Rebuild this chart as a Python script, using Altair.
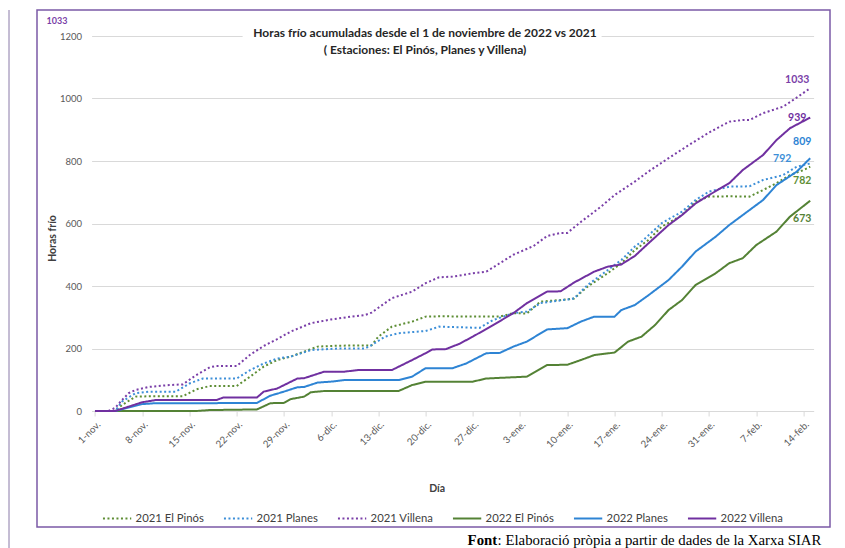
import altair as alt
import pandas as pd

# ---------------- data ----------------
series_names = ["2021 El Pinós", "2021 Planes", "2021 Villena",
                "2022 El Pinós", "2022 Planes", "2022 Villena"]
series_colors = ["#5E8E35", "#3D8FD8", "#7A3FA8", "#548235", "#2E84D4", "#7030A0"]

tick_days = [0, 7, 14, 21, 28, 35, 42, 49, 56, 63, 70, 77, 84, 91, 98, 105]
tick_labels = ["1-nov.", "8-nov.", "15-nov.", "22-nov.", "29-nov.", "6-dic.", "13-dic.",
               "20-dic.", "27-dic.", "3-ene.", "10-ene.", "17-ene.", "24-ene.", "31-ene.",
               "7-feb.", "14-feb."]

# days since 1 Nov and accumulated chill hours
pinos21_days = [0, 3, 4, 6, 8, 13, 15, 17, 21, 23, 25, 27, 29, 31, 33, 36, 41, 42, 44, 47, 49, 51,
                60, 62, 64, 66, 69, 71, 73, 76, 78, 80, 82, 84, 87, 89, 91, 94, 97, 99, 101, 103, 105, 106]
pinos21_vals = [0, 0, 19, 46, 47, 47, 69, 80, 80, 110, 142, 163, 174, 190, 206, 209, 210, 238, 270, 286, 302, 303,
                302, 313, 312, 350, 355, 360, 398, 441, 473, 515, 547, 590, 627, 670, 686, 687, 686, 707, 729, 755, 771, 782]

planes21_days = [0, 3, 4, 6, 8, 12, 14, 16, 21, 23, 25, 27, 29, 32, 36, 40, 41, 43, 45, 49, 51, 57,
                 59, 62, 64, 66, 71, 73, 76, 78, 80, 81, 84, 87, 89, 91, 94, 97, 99, 102, 104, 106]
planes21_vals = [0, 0, 30, 57, 62, 62, 88, 104, 104, 131, 152, 168, 174, 195, 200, 200, 211, 238, 249, 256, 270, 266,
                 291, 313, 318, 345, 360, 403, 451, 483, 526, 542, 601, 638, 675, 702, 718, 719, 739, 755, 782, 792]

villena21_days = [0, 2, 3, 4, 5, 6, 8, 11, 13, 15, 17, 18, 21, 23, 25, 27, 29, 32, 35, 38, 40, 41, 44, 47,
                  49, 51, 53, 55, 56, 58, 60, 62, 65, 67, 69, 70, 72, 75, 77, 80, 82, 85, 88, 91, 94, 96,
                  97, 99, 102, 104, 106]
villena21_vals = [0, 0, 10, 35, 57, 67, 77, 83, 85, 115, 140, 144, 144, 180, 208, 230, 254, 281, 293, 302, 307, 315,
                  361, 382, 409, 428, 430, 437, 441, 446, 473, 500, 528, 560, 570, 570, 605, 654, 691, 734, 766,
                  809, 851, 891, 926, 931, 931, 953, 974, 1003, 1033]

pinos22_days = [0, 15, 17, 24, 26, 28, 29, 31, 32, 34, 45, 47, 49, 56, 58, 64, 67, 70, 72, 74, 77, 79,
                81, 83, 85, 87, 89, 92, 94, 96, 98, 101, 103, 106]
pinos22_vals = [0, 0, 3, 5, 25, 26, 38, 46, 60, 64, 64, 83, 94, 94, 104, 110, 147, 148, 163, 179, 187, 222,
                238, 275, 323, 355, 403, 441, 473, 489, 531, 574, 622, 673]

planes22_days = [0, 3, 5, 7, 9, 18, 19, 24, 26, 28, 30, 31, 33, 35, 37, 45, 47, 49, 53, 55, 58, 60, 62,
                 64, 67, 70, 72, 74, 77, 78, 80, 82, 85, 87, 89, 92, 94, 96, 99, 101, 104, 106]
planes22_vals = [0, 0, 11, 22, 25, 25, 26, 26, 49, 62, 76, 77, 91, 94, 99, 99, 110, 137, 137, 152, 185, 186, 206,
                 222, 261, 265, 286, 302, 302, 323, 339, 370, 419, 462, 510, 558, 595, 627, 675, 723, 766, 809]

villena22_days = [0, 3, 5, 7, 9, 18, 19, 24, 25, 27, 30, 31, 34, 37, 39, 44, 47, 49, 50, 52, 54, 56, 59,
                  62, 64, 67, 69, 71, 74, 76, 78, 80, 82, 85, 87, 89, 91, 94, 96, 99, 101, 103, 106]
villena22_vals = [0, 0, 14, 28, 35, 35, 43, 43, 62, 72, 104, 105, 126, 126, 131, 131, 163, 185, 197, 198, 215, 238,
                  275, 313, 345, 382, 383, 411, 446, 462, 469, 496, 536, 595, 627, 664, 691, 729, 771, 819, 867,
                  905, 939]

end_labels = ["782", "792", "1033", "673", "809", "939"]
end_offsets = [(-8, 14), (-28, -5), (-13, -8), (-8, 18), (-8, -16), (-13, 0)]

# ---------------- build table ----------------
pairs = [(pinos21_days, pinos21_vals), (planes21_days, planes21_vals), (villena21_days, villena21_vals),
         (pinos22_days, pinos22_vals), (planes22_days, planes22_vals), (villena22_days, villena22_vals)]
rows = []
for name, (ds, vs) in zip(series_names, pairs):
    for d, v in zip(ds, vs):
        rows.append({"serie": name, "dia": d, "horas": v})
df = pd.DataFrame(rows)

FONT = "Lato"
PLOT_W, PLOT_H = 722, 375
LEFT, TOP = 83.6, 28  # padding -> plot origin at page (91.6, 36)

label_expr = "[" + ",".join("'" + t + "'" for t in tick_labels) + "][round(datum.value/7)]"

dash_range = [[2, 2.5], [2, 2.5], [2, 2.5], [1, 0], [1, 0], [1, 0]]

legend_cfg = dict(orient="none", legendX=10, legendY=467, direction="horizontal",
                  symbolType="stroke", symbolSize=800, symbolStrokeWidth=2,
                  labelFont=FONT, labelFontSize=11.3, labelColor="#404040",
                  columnPadding=15, labelOffset=3, title=None)

x_enc = alt.X("dia:Q",
              scale=alt.Scale(domain=[-0.5, 106.5], nice=False, zero=False),
              axis=alt.Axis(values=tick_days, labelExpr=label_expr, labelAngle=-45,
                            grid=False, ticks=True, tickSize=5, tickColor="#D9D9D9",
                            domainColor="#D9D9D9", labelColor="#595959", labelFontSize=9.7,
                            labelFont=FONT, labelPadding=3,
                            title="Día", titleX=345, titleY=77, titleFont=FONT,
                            titleFontSize=10.5, titleFontWeight="bold", titleColor="#404040",
                            titleBaseline="middle", titleAlign="center"))
y_enc = alt.Y("horas:Q",
              scale=alt.Scale(domain=[0, 1200], nice=False),
              axis=alt.Axis(values=[0, 200, 400, 600, 800, 1000, 1200], format="d",
                            grid=True, gridColor="#D9D9D9", domain=False, ticks=False,
                            labelPadding=10, labelColor="#595959", labelFontSize=9.5,
                            labelFont=FONT,
                            title="Horas frío", titleX=-39.6, titleY=202, titleAngle=270,
                            titleBaseline="middle", titleAlign="center", titleFont=FONT,
                            titleFontSize=10.5, titleFontWeight="bold", titleColor="#404040"))

lines = alt.Chart(df).mark_line(strokeWidth=2, strokeCap="butt").encode(
    x=x_enc, y=y_enc,
    color=alt.Color("serie:N", scale=alt.Scale(domain=series_names, range=series_colors),
                    legend=alt.Legend(**legend_cfg)),
    strokeDash=alt.StrokeDash("serie:N", scale=alt.Scale(domain=series_names, range=dash_range),
                              legend=alt.Legend(**legend_cfg)),
    order=alt.Order("dia:Q"),
)

one = alt.Data(values=[{"k": 1}])

frame = alt.Chart(one).mark_rect(filled=False, stroke="#7B5AA6", strokeWidth=1.5).encode(
    x=alt.value(-54.6), x2=alt.value(738.4), y=alt.value(-26), y2=alt.value(491))

page_line = alt.Chart(one).mark_rule(stroke="#8A7AA8", strokeWidth=1).encode(
    x=alt.value(-82.6), y=alt.value(-26), y2=alt.value(520))

title_box = alt.Chart(one).mark_rect(fill="white").encode(
    x=alt.value(151), x2=alt.value(510), y=alt.value(-10), y2=alt.value(4))

title1 = alt.Chart(one).mark_text(text="Horas frío acumuladas desde el 1 de noviembre de 2022 vs 2021",
                                  font=FONT, fontSize=12, fontWeight="bold", color="#262626",
                                  align="center", baseline="middle").encode(
    x=alt.value(333.4), y=alt.value(-3))
title2 = alt.Chart(one).mark_text(text="( Estaciones: El Pinós, Planes y Villena)",
                                  font=FONT, fontSize=12, fontWeight="bold", color="#262626",
                                  align="center", baseline="middle").encode(
    x=alt.value(333.4), y=alt.value(14))

corner = alt.Chart(one).mark_text(text="1033", font=FONT, fontSize=9, fontWeight="bold",
                                  color="#7A3FA8", align="center", baseline="middle").encode(
    x=alt.value(-34.6), y=alt.value(-15))

src_bold = alt.Chart(one).mark_text(text="Font", font="Liberation Serif", fontSize=14.8,
                                    fontWeight="bold", color="black", align="left",
                                    baseline="alphabetic").encode(
    x=alt.value(376), y=alt.value(509))
src_rest = alt.Chart(one).mark_text(text=": Elaboració pròpia a partir de dades de la Xarxa SIAR",
                                    font="Liberation Serif", fontSize=14.8, color="black",
                                    align="left", baseline="alphabetic").encode(
    x=alt.value(406), y=alt.value(509))

label_layers = []
for name, col, lab, (dx, dy), (ds, vs) in zip(series_names, series_colors, end_labels, end_offsets, pairs):
    ldf = pd.DataFrame([{"dia": ds[-1], "horas": vs[-1], "t": lab}])
    label_layers.append(
        alt.Chart(ldf).mark_text(font=FONT, fontSize=10.5, fontWeight="bold", color=col,
                                 dx=dx, dy=dy, align="center", baseline="middle").encode(
            x="dia:Q", y="horas:Q", text="t:N"))

chart = alt.layer(frame, page_line, lines, *label_layers, title_box, title1, title2, corner,
                  src_bold, src_rest).properties(
    width=PLOT_W, height=PLOT_H,
    autosize=alt.AutoSizeParams(type="none"),
    padding={"left": LEFT, "top": TOP, "right": 23.4, "bottom": 137},
    background="white",
).configure_view(stroke=None)

chart.save("out.html", embed_options={"renderer": "svg", "actions": False})
